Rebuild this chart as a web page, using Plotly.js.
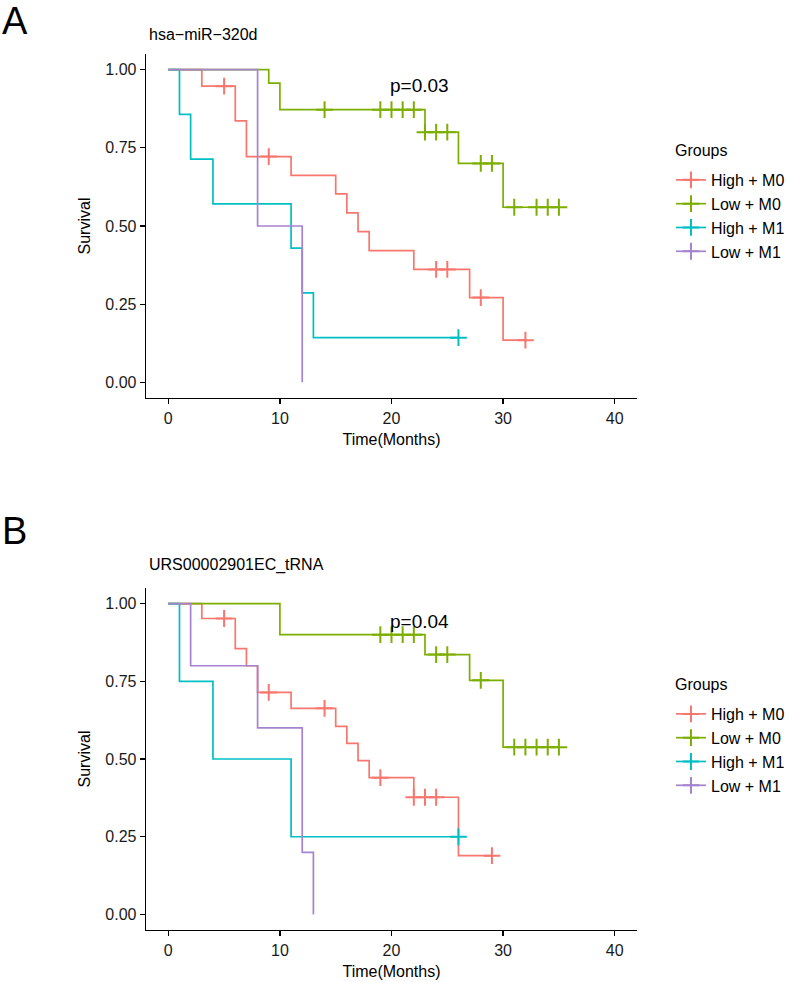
<!DOCTYPE html>
<html>
<head>
<meta charset="utf-8">
<script src="https://cdn.plot.ly/plotly-3.0.1.min.js"></script>
<style>html,body{margin:0;padding:0;background:#fff}#chart{width:792px;height:982px}</style>
</head>
<body>
<div id="chart"></div>
<script>
// ---------- data ----------
const groupNames = ['High + M0', 'Low + M0', 'High + M1', 'Low + M1'];
const legendTitle = 'Groups';
const xTickVals = [0, 10, 20, 30, 40];
const yTickVals = [0, 0.25, 0.5, 0.75, 1];
const yTickLabels = ['0.00', '0.25', '0.50', '0.75', '1.00'];
const titleA = 'hsa\u2212miR\u2212320d';
const titleB = 'URS00002901EC_tRNA';
const pvalA = 'p=0.03';
const pvalB = 'p=0.04';

// Panel A (hsa-miR-320d) step curves
const A_HM0_time = [0, 3, 6, 7, 11, 15, 16, 17, 18, 22, 27, 30, 32];
const A_HM0_surv = [1, 0.947, 0.836, 0.722, 0.662, 0.603, 0.542, 0.482, 0.421, 0.361, 0.271, 0.135, 0.135];
const A_HM0_censTime = [5, 9, 24, 25, 28, 32];
const A_HM0_censSurv = [0.947, 0.722, 0.361, 0.361, 0.271, 0.135];

const A_LM0_time = [0, 9, 10, 23, 26, 30, 35];
const A_LM0_surv = [1, 0.957, 0.872, 0.80, 0.70, 0.56, 0.56];
const A_LM0_censTime = [14, 19, 20, 21, 22, 23, 24, 25, 28, 29, 31, 33, 34, 35];
const A_LM0_censSurv = [0.872, 0.872, 0.872, 0.872, 0.872, 0.80, 0.80, 0.80, 0.70, 0.70, 0.56, 0.56, 0.56, 0.56];

const A_HM1_time = [0, 1, 2, 4, 11, 12, 13, 26];
const A_HM1_surv = [1, 0.857, 0.714, 0.571, 0.429, 0.286, 0.143, 0.143];
const A_HM1_censTime = [26];
const A_HM1_censSurv = [0.143];

const A_LM1_time = [0, 8, 12];
const A_LM1_surv = [1, 0.5, 0];
const A_LM1_censTime = [];
const A_LM1_censSurv = [];

// Panel B (URS00002901EC_tRNA) step curves
const B_HM0_time = [0, 3, 6, 7, 8, 11, 15, 16, 17, 18, 22, 26, 29];
const B_HM0_surv = [1, 0.952, 0.855, 0.80, 0.714, 0.663, 0.605, 0.55, 0.495, 0.44, 0.377, 0.189, 0.189];
const B_HM0_censTime = [5, 9, 14, 19, 22, 23, 24, 29];
const B_HM0_censSurv = [0.952, 0.714, 0.663, 0.44, 0.377, 0.377, 0.377, 0.189];

const B_LM0_time = [0, 10, 23, 27, 30, 35];
const B_LM0_surv = [1, 0.90, 0.836, 0.753, 0.538, 0.538];
const B_LM0_censTime = [19, 20, 21, 22, 24, 25, 28, 31, 32, 33, 34, 35];
const B_LM0_censSurv = [0.90, 0.90, 0.90, 0.90, 0.836, 0.836, 0.753, 0.538, 0.538, 0.538, 0.538, 0.538];

const B_HM1_time = [0, 1, 4, 11, 26];
const B_HM1_surv = [1, 0.75, 0.5, 0.25, 0.25];
const B_HM1_censTime = [26];
const B_HM1_censSurv = [0.25];

const B_LM1_time = [0, 2, 8, 12, 13];
const B_LM1_surv = [1, 0.8, 0.6, 0.2, 0];
const B_LM1_censTime = [];
const B_LM1_censSurv = [];

// p-value label positions (data coordinates)
const pvalPosA = [22.5, 0.949];
const pvalPosB = [22.5, 0.942];

// ---------- styling ----------
const colors = ['#F8766D', '#7CAE00', '#00BFC4', '#A683D0'];
const FONT = 'Liberation Sans, Arial, Helvetica, sans-serif';
const LW = 1.7;

const panelA = [
  [A_HM0_time, A_HM0_surv, A_HM0_censTime, A_HM0_censSurv],
  [A_LM0_time, A_LM0_surv, A_LM0_censTime, A_LM0_censSurv],
  [A_HM1_time, A_HM1_surv, A_HM1_censTime, A_HM1_censSurv],
  [A_LM1_time, A_LM1_surv, A_LM1_censTime, A_LM1_censSurv]
];
const panelB = [
  [B_HM0_time, B_HM0_surv, B_HM0_censTime, B_HM0_censSurv],
  [B_LM0_time, B_LM0_surv, B_LM0_censTime, B_LM0_censSurv],
  [B_HM1_time, B_HM1_surv, B_HM1_censTime, B_HM1_censSurv],
  [B_LM1_time, B_LM1_surv, B_LM1_censTime, B_LM1_censSurv]
];

const traces = [];
function addPanel(panel, xa, ya, legendId) {
  panel.forEach((g, i) => {
    const c = colors[i];
    traces.push({
      x: g[0], y: g[1], type: 'scatter', mode: 'lines',
      line: {color: c, width: LW, shape: 'hv'},
      xaxis: xa, yaxis: ya, showlegend: false, hoverinfo: 'skip'
    });
    if (g[2].length) {
      traces.push({
        x: g[2], y: g[3], type: 'scatter', mode: 'markers',
        marker: {symbol: 'cross-thin-open', size: 12, color: c, line: {color: c, width: 2}},
        xaxis: xa, yaxis: ya, showlegend: false, hoverinfo: 'skip'
      });
    }
  });
  // legend entries
  panel.forEach((g, i) => {
    const c = colors[i];
    traces.push({
      x: [null], y: [null], type: 'scatter', mode: 'lines+markers',
      name: groupNames[i],
      line: {color: c, width: LW},
      marker: {symbol: 'cross-thin-open', size: 12, color: c, line: {color: c, width: 2}},
      xaxis: xa, yaxis: ya, showlegend: true, legend: legendId
    });
  });
}
addPanel(panelA, 'x', 'y', 'legend');
addPanel(panelB, 'x2', 'y2', 'legend2');

function xAxis(anchor) {
  return {
    domain: [0, 1], anchor: anchor, range: [-2, 42],
    showline: true, linecolor: '#000', linewidth: 1.3, mirror: false,
    ticks: 'outside', ticklen: 5, tickwidth: 1.3, tickcolor: '#000',
    tickvals: xTickVals, tickfont: {family: FONT, size: 16, color: '#1a1a1a'},
    showgrid: false, zeroline: false, automargin: false,
    title: {text: 'Time(Months)', font: {family: FONT, size: 16, color: '#000'}, standoff: 8}
  };
}
function yAxis(anchor, dom) {
  return {
    domain: dom, anchor: anchor, range: [-0.05, 1.05],
    showline: true, linecolor: '#000', linewidth: 1.3, mirror: false,
    ticks: 'outside', ticklen: 5, tickwidth: 1.3, tickcolor: '#000',
    tickvals: yTickVals, ticktext: yTickLabels,
    tickfont: {family: FONT, size: 16, color: '#1a1a1a'},
    showgrid: false, zeroline: false, automargin: false,
    title: {text: 'Survival', font: {family: FONT, size: 16, color: '#000'}, standoff: 10}
  };
}

const legendStyle = (y) => ({
  x: 1.0692, xanchor: 'left', y: y, yanchor: 'top',
  font: {family: FONT, size: 16, color: '#000'},
  bgcolor: 'rgba(0,0,0,0)', borderwidth: 0,
  tracegroupgap: 0, itemwidth: 30, traceorder: 'normal'
});

const layout = {
  width: 792, height: 982,
  margin: {l: 146, r: 155, t: 54, b: 52, autoexpand: false},
  paper_bgcolor: '#fff', plot_bgcolor: '#fff',
  font: {family: FONT, color: '#000'},
  showlegend: true,
  xaxis: xAxis('y'),
  yaxis: yAxis('x', [0.6073, 1]),
  xaxis2: xAxis('y2'),
  yaxis2: yAxis('x2', [0, 0.3904]),
  legend: legendStyle(0.8756),
  legend2: legendStyle(0.266),
  annotations: [
    {text: 'A', xref: 'paper', yref: 'paper', x: -0.297, y: 1.038, xanchor: 'left', yanchor: 'middle',
     showarrow: false, font: {family: FONT, size: 38, color: '#000'}},
    {text: 'B', xref: 'paper', yref: 'paper', x: -0.297, y: 0.4555, xanchor: 'left', yanchor: 'middle',
     showarrow: false, font: {family: FONT, size: 38, color: '#000'}},
    {text: titleA, xref: 'paper', yref: 'paper', x: 0.002, y: 1.0228, xanchor: 'left', yanchor: 'middle',
     showarrow: false, font: {family: FONT, size: 16, color: '#000'}},
    {text: titleB, xref: 'paper', yref: 'paper', x: 0.002, y: 0.4167, xanchor: 'left', yanchor: 'middle',
     showarrow: false, font: {family: FONT, size: 16, color: '#000'}},
    {text: legendTitle, xref: 'paper', yref: 'paper', x: 1.0733, y: 0.8893, xanchor: 'left', yanchor: 'middle',
     showarrow: false, font: {family: FONT, size: 16, color: '#000'}},
    {text: legendTitle, xref: 'paper', yref: 'paper', x: 1.0733, y: 0.2797, xanchor: 'left', yanchor: 'middle',
     showarrow: false, font: {family: FONT, size: 16, color: '#000'}},
    {text: pvalA, xref: 'x', yref: 'y', x: pvalPosA[0], y: pvalPosA[1], xanchor: 'center', yanchor: 'middle',
     showarrow: false, font: {family: FONT, size: 19, color: '#000'}},
    {text: pvalB, xref: 'x2', yref: 'y2', x: pvalPosB[0], y: pvalPosB[1], xanchor: 'center', yanchor: 'middle',
     showarrow: false, font: {family: FONT, size: 19, color: '#000'}}
  ]
};

Plotly.newPlot('chart', traces, layout, {staticPlot: true, displayModeBar: false});
</script>
</body>
</html>
